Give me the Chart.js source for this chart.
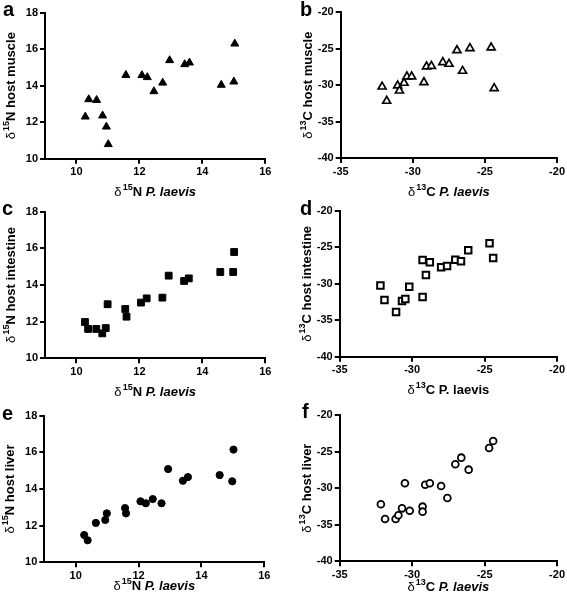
<!DOCTYPE html>
<html><head><meta charset="utf-8">
<script src="https://cdn.jsdelivr.net/npm/chart.js@4.4.1/dist/chart.umd.min.js"></script>
<style>
html,body{margin:0;padding:0;background:#fff;}
body{width:567px;height:598px;overflow:hidden;position:relative;}
canvas{position:absolute;}
</style></head><body>
<canvas id="ca" width="283" height="200" style="left:0;top:0"></canvas>
<canvas id="cb" width="284" height="200" style="left:283px;top:0"></canvas>
<canvas id="cc" width="283" height="200" style="left:0;top:200px"></canvas>
<canvas id="cd" width="284" height="200" style="left:283px;top:200px"></canvas>
<canvas id="ce" width="283" height="198" style="left:0;top:400px"></canvas>
<canvas id="cf" width="284" height="198" style="left:283px;top:400px"></canvas>
<script>
// ---- data ----
const n15PlaevisMuscle = [10.28,10.39,10.64,10.83,10.95,11.01,11.57,12.08,12.25,12.46,12.74,12.96,13.44,13.59,14.60,15.00,15.03];
const n15HostMuscle    = [12.30,13.25,13.21,12.36,11.75,10.79,14.58,14.57,14.46,13.69,14.16,15.39,15.17,15.26,14.04,14.22,16.30];

const c13PlaevisMuscle = [-32.13,-31.81,-31.05,-30.93,-30.61,-30.41,-30.08,-29.23,-29.05,-28.71,-27.92,-27.49,-26.94,-26.55,-26.04,-24.57,-24.36];
const c13HostMuscle    = [-30.21,-32.17,-30.07,-30.76,-29.70,-28.83,-28.83,-29.61,-27.46,-27.37,-26.86,-27.09,-25.22,-28.05,-24.94,-24.85,-30.43];

const n15PlaevisIntestine = [10.27,10.37,10.63,10.82,10.93,10.99,11.55,11.59,12.05,12.23,12.73,12.93,13.42,13.57,14.57,14.98,15.01];
const n15HostIntestine    = [11.98,11.60,11.60,11.36,11.65,12.95,12.69,12.27,13.04,13.27,13.31,14.51,14.22,14.36,14.71,14.71,15.80];

const c13PlaevisIntestine = [-32.19,-31.91,-31.11,-30.70,-30.47,-30.20,-29.28,-29.28,-29.05,-28.78,-28.00,-27.59,-27.02,-26.63,-26.13,-24.66,-24.41];
const c13HostIntestine    = [-30.21,-32.22,-33.87,-32.36,-32.08,-30.39,-31.81,-26.73,-28.79,-27.05,-27.73,-27.55,-26.68,-26.91,-25.40,-24.44,-26.45];

const n15PlaevisLiver = [10.27,10.38,10.64,10.94,10.99,11.57,11.60,12.06,12.23,12.45,12.73,12.94,13.41,13.57,14.58,14.98,15.02];
const n15HostLiver    = [11.49,11.20,12.15,12.31,12.67,12.96,12.67,13.33,13.22,13.45,13.22,15.09,14.45,14.65,14.76,14.42,16.15];

const c13PlaevisLiver = [-32.16,-31.87,-31.14,-30.95,-30.70,-30.50,-30.17,-29.28,-29.28,-29.10,-28.78,-28.00,-27.57,-27.02,-26.61,-26.10,-24.69,-24.41];
const c13HostLiver    = [-32.21,-34.21,-34.21,-33.71,-32.76,-29.34,-33.08,-32.53,-33.21,-29.53,-29.34,-29.70,-31.34,-26.74,-25.83,-27.47,-24.51,-23.56];

const n15XTicks = [10,12,14,16];
const n15YTicks = [10,12,14,16,18];
const c13XTicks = [-35,-30,-25,-20];
const c13YTicks = [-40,-35,-30,-25,-20];

// ---- drawing helpers ----
const FF = '"Liberation Sans", Arial, sans-serif';
function deltaRuns(iso, el, rest, italicRest) {
  const runs = [
    {t:'\u03B4', f:'13px '+FF},
    {t:' ', f:'4px '+FF},
    {t:iso, f:'bold 9px '+FF, dy:-4},
    {t:el+' ', f:'bold 13px '+FF}
  ];
  runs.push({t:rest, f:(italicRest?'italic ':'')+'bold 13px '+FF});
  return runs;
}
function drawRuns(ctx, runs, x, y, rotate) {
  ctx.save();
  ctx.translate(x, y);
  if (rotate) ctx.rotate(-Math.PI/2);
  let total = 0;
  runs.forEach(r => { ctx.font = r.f; total += ctx.measureText(r.t).width; });
  let cx = -total/2;
  ctx.textBaseline = 'middle'; ctx.textAlign = 'left'; ctx.fillStyle = '#000';
  runs.forEach(r => { ctx.font = r.f; ctx.fillText(r.t, cx, r.dy || 0); cx += ctx.measureText(r.t).width; });
  ctx.restore();
}
const titlePlugin = {
  id: 'richTitles',
  afterDraw(chart, args, o) {
    const ctx = chart.ctx;
    const ca = chart.chartArea;
    drawRuns(ctx, o.yRuns, o.yX, (ca.top+ca.bottom)/2 + (o.yDy||0), true);
    drawRuns(ctx, o.xRuns, (ca.left+ca.right)/2, o.xY, false);
    ctx.save();
    ctx.font = 'bold 20px '+FF; ctx.fillStyle = '#000';
    ctx.textBaseline = 'alphabetic'; ctx.textAlign = 'left';
    ctx.fillText(o.letter, o.lx, o.ly);
    ctx.restore();
  }
};

function makePanel(id, xs, ys, g, xTicks, yTicks, mk, titles) {
  const W = document.getElementById(id).width, H = document.getElementById(id).height;
  const pts = xs.map((x,i) => ({x:x, y:ys[i]}));
  const axisCommon = (ticks, min, max) => ({
    type:'linear', min:min, max:max,
    afterBuildTicks: s => { s.ticks = ticks.map(v => ({value:v})); },
    grid:{display:true, drawOnChartArea:false, drawTicks:true, tickLength:5, color:'#000', lineWidth:2},
    border:{display:true, color:'#000', width:2},
    ticks:{color:'#000', font:{family:FF, size:11, weight:'bold'}, padding:2, autoSkip:false, maxRotation:0,
      callback: v => String(v)}
  });
  const xa = axisCommon(xTicks, g.xmin, g.xmax);
  xa.afterFit = s => { s.height = H - g.bottom; };
  const ya = axisCommon(yTicks, yTicks[0], yTicks[yTicks.length-1]);
  ya.afterFit = s => { s.width = g.left; };
  new Chart(document.getElementById(id), {
    type:'scatter',
    data:{datasets:[{data:pts, pointStyle:mk.style, pointRadius:mk.r, pointHoverRadius:mk.r,
      backgroundColor:mk.fill, borderColor:'#000', pointBorderWidth:mk.bw, borderWidth:mk.bw, showLine:false}]},
    options:{
      responsive:false, animation:false, devicePixelRatio:1,
      layout:{padding:{left:0, top:g.top, right:W - g.right, bottom:0}},
      plugins:{legend:{display:false}, tooltip:{enabled:false}, richTitles:titles},
      scales:{x:xa, y:ya}
    },
    plugins:[titlePlugin]
  });
}

makePanel('ca', n15PlaevisMuscle, n15HostMuscle,
  {left:45, right:265.3, top:12.7, bottom:158.7, xmin:9, xmax:16}, n15XTicks, n15YTicks,
  {style:'triangle', r:4.6, fill:'#000', bw:1},
  {yRuns:deltaRuns('15','N','host muscle',false), yX:11, xRuns:deltaRuns('15','N','P. laevis',true), xY:192, letter:'a', lx:3, ly:16});
makePanel('cb', c13PlaevisMuscle, c13HostMuscle,
  {left:57.7, right:275.3, top:12.3, bottom:158, xmin:-35, xmax:-20}, c13XTicks, c13YTicks,
  {style:'triangle', r:4.6, fill:'#fff', bw:1.7},
  {yRuns:deltaRuns('13','C','host muscle',false), yX:25, xRuns:deltaRuns('13','C','P. laevis',true), xY:192, letter:'b', lx:17, ly:16});
makePanel('cc', n15PlaevisIntestine, n15HostIntestine,
  {left:45, right:265.3, top:11.7, bottom:158.3, xmin:9, xmax:16}, n15XTicks, n15YTicks,
  {style:'rect', r:4.8, fill:'#000', bw:1},
  {yRuns:deltaRuns('15','N','host intestine',false), yX:11, xRuns:deltaRuns('15','N','P. laevis',true), xY:192, letter:'c', lx:2, ly:15});
makePanel('cd', c13PlaevisIntestine, c13HostIntestine,
  {left:56.7, right:275, top:11, bottom:156.7, xmin:-35, xmax:-20}, c13XTicks, c13YTicks,
  {style:'rect', r:4.6, fill:'#fff', bw:2},
  {yRuns:deltaRuns('13','C','host intestine',false), yX:24, xRuns:deltaRuns('13','C','P. laevis',false), xY:190, letter:'d', lx:17, ly:15});
makePanel('ce', n15PlaevisLiver, n15HostLiver,
  {left:44.3, right:264.3, top:15.7, bottom:162.3, xmin:9, xmax:16}, n15XTicks, n15YTicks,
  {style:'circle', r:3.6, fill:'#000', bw:1},
  {yRuns:deltaRuns('15','N','host liver',false), yX:10, xRuns:deltaRuns('15','N','P. laevis',true), xY:186, letter:'e', lx:2, ly:20});
makePanel('cf', c13PlaevisLiver, c13HostLiver,
  {left:56.7, right:275, top:15, bottom:161.3, xmin:-35, xmax:-20}, c13XTicks, c13YTicks,
  {style:'circle', r:3.4, fill:'#fff', bw:1.8},
  {yRuns:deltaRuns('13','C','host liver',false), yX:24, xRuns:deltaRuns('13','C','P. laevis',true), xY:187, letter:'f', lx:19, ly:18});
</script>
</body></html>
